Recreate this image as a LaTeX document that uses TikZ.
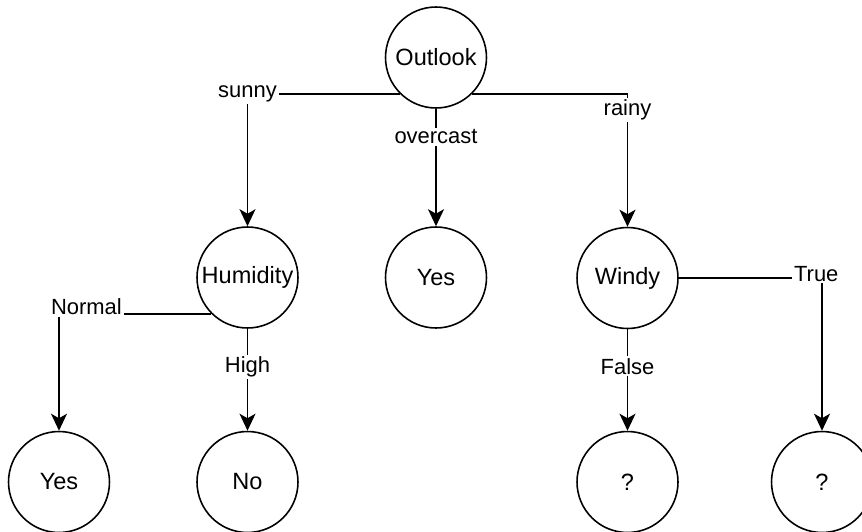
\documentclass[tikz,border=0pt]{standalone}
\usepackage{fontspec}
\setmainfont{Liberation Sans}
\usetikzlibrary{arrows.meta}
\tikzset{
	decision/.style={circle,draw=black,fill=white,line width=0.9pt,inner sep=0pt,minimum size=2.02cm,font=\fontsize{13.4}{16}\selectfont},
	branch/.style={line width=0.9pt,-{Stealth[length=3.4mm,width=3.2mm,inset=0.9mm]}},
	labl/.style={shape=rectangle,fill=white,inner sep=1pt,font=\fontsize{12.5}{15}\selectfont},
}
\begin{document}
\begin{tikzpicture}[x=0.02cm,y=-0.02cm]
\useasboundingbox (0,0) rectangle (862,531);
\clip (0,0) rectangle (862,531);

\node (outlook) at (436,57.5) [decision] {Outlook};
\node (humid) at (247.5,277.5) [decision] {Humidity};
\node (yes2) at (436,277.5) [decision] {Yes};
\node (windy) at (627.5,278) [decision] {Windy};
\node (yes1) at (59,482) [decision] {Yes};
\node (no) at (247.5,482) [decision] {No};
\node (q1) at (627.5,482) [decision] {?};
\node (q2) at (822,482) [decision] {?};

\draw[branch] (outlook.225) -| node[labl,pos=0.5] {sunny} (humid.north);
\draw[branch] (outlook.-45) -| node[labl,pos=0.56] {rainy} (windy.north);
\draw[branch] (humid.225) -| node[labl,pos=0.41,yshift=4pt] {Normal} (yes1.north);
\draw[branch] (windy.east) -| node[labl,pos=0.48,yshift=2.5pt] {True} (q2.north);
\foreach \a/\b/\t/\p in {outlook/yes2/overcast/0.24, humid/no/High/0.375, windy/q1/False/0.365}
  \draw[branch] (\a.south) -- node[labl,pos=\p] {\t} (\b.north);
\end{tikzpicture}
\end{document}
